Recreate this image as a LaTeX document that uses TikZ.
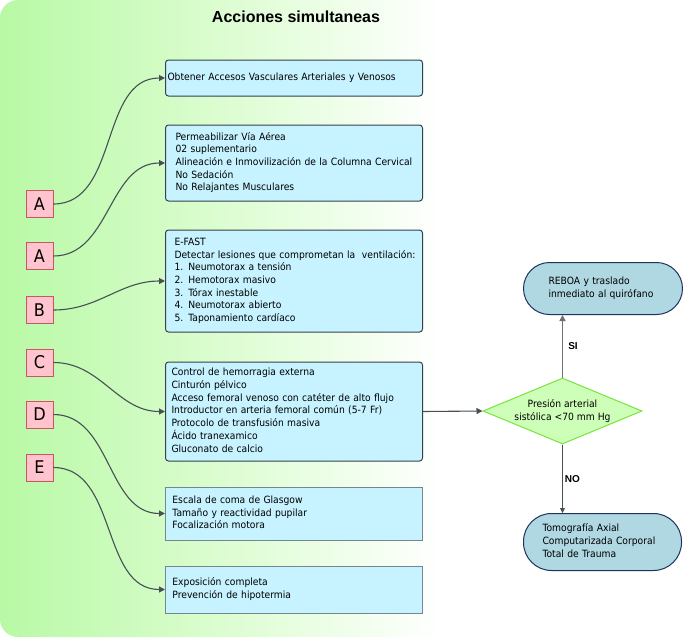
\documentclass[tikz,border=0pt]{standalone}
\usepackage{fontspec}
\setmainfont[FakeStretch=0.92]{DejaVu Sans}
\newfontfamily\titlefont{Liberation Sans}
\usetikzlibrary{shapes.geometric,arrows.meta}
\definecolor{greenA}{RGB}{184,249,165}
\definecolor{greenB}{RGB}{218,253,206}
\definecolor{boxfill}{RGB}{198,243,255}
\definecolor{boxborder}{RGB}{55,65,75}
\definecolor{boxborderB}{RGB}{115,135,145}
\definecolor{letterfill}{RGB}{255,196,206}
\definecolor{letterborder}{RGB}{205,85,95}
\definecolor{termfill}{RGB}{176,216,226}
\definecolor{termborder}{RGB}{30,50,95}
\definecolor{diafill}{RGB}{206,255,184}
\definecolor{diaborder}{RGB}{120,228,60}
\definecolor{arrowc}{RGB}{70,80,85}
\definecolor{arrowsi}{RGB}{105,115,118}
\pgfdeclarehorizontalshading{panelshade}{100bp}{color(0bp)=(greenA); color(25bp)=(greenA);
  color(40bp)=(greenB); color(56.5bp)=(white); color(100bp)=(white)}
\newcommand{\boxlines}[1]{\begin{tabular}{@{}l@{}}#1\end{tabular}}
\begin{document}
\begin{tikzpicture}[x=1pt,y=-1pt,
  txt/.style={font=\fontsize{10}{12.7}\selectfont},
  letter/.style={draw=letterborder, fill=letterfill, line width=0.8pt,
    minimum width=27pt, minimum height=27pt, inner sep=0pt,
    font=\fontsize{17.5}{17.5}\selectfont},
  actbox/.style={txt, draw=boxborder, fill=boxfill, rounded corners=3pt,
    line width=1pt, anchor=west, inner xsep=8pt, inner ysep=0pt,
    text width=241pt, align=left},
  actboxB/.style={actbox, rounded corners=0pt, draw=boxborderB, line width=0.8pt},
  term/.style={txt, draw=termborder, fill=termfill, line width=1pt,
    align=left, inner ysep=0pt},
  con/.style={draw=arrowc, line width=1.1pt, -{Triangle[length=6pt,width=6pt]}},
  lbl/.style={font=\titlefont\bfseries\fontsize{10}{12}\selectfont, inner sep=0pt}
]
\useasboundingbox (0,0) rectangle (683,638);
% background panel (its right part is white and runs off the page)
\path[shading=panelshade]
  (700,0) [rounded corners=18pt] -- (0,0) -- (0,637) [sharp corners] -- (700,637) -- cycle;
% title
\node[anchor=base, font=\titlefont\bfseries\fontsize{16}{18}\selectfont, inner sep=0pt]
  (title) at (296,22) {Acciones simultaneas};
% action boxes
\node[actbox, inner xsep=2pt, text width=253pt, minimum height=36pt] (b1) at (165,78)
  {\boxlines{Obtener Accesos Vasculares Arteriales y Venosos}};
\node[actbox, inner xsep=10pt, text width=237pt, minimum height=76pt] (b2) at (165,163)
  {\boxlines{Permeabilizar Vía Aérea\\02 suplementario\\Alineación e Inmovilización de la Columna Cervical\\No Sedación\\No Relajantes Musculares}};
\node[actbox, inner xsep=9pt, text width=239pt, minimum height=102pt] (b3) at (165,281)
  {\boxlines{E-FAST\\Detectar lesiones que comprometan la\ \ ventilación:\\1. Neumotorax a tensión\\2. Hemotorax masivo\\3. Tórax inestable\\4. Neumotorax abierto\\5. Taponamiento cardíaco}};
\node[actbox, inner xsep=6pt, text width=245pt, minimum height=99pt] (b4) at (165,411.5)
  {\boxlines{Control de hemorragia externa\\Cinturón pélvico\\Acceso femoral venoso con catéter de alto flujo\\Introductor en arteria femoral común (5-7 Fr)\\Protocolo de transfusión masiva\\Ácido tranexamico\\Gluconato de calcio}};
\node[actboxB, inner xsep=7pt, text width=243pt, minimum height=53pt] (b5) at (165,513.5)
  {\boxlines{Escala de coma de Glasgow\\Tamaño y reactividad pupilar\\Focalización motora}};
\node[actboxB, inner xsep=7pt, text width=243pt, minimum height=47pt] (b6) at (165,589.5)
  {\boxlines{Exposición completa\\Prevención de hipotermia}};
% letter boxes
\node[letter] (la1) at (39.5,204) {A};
\node[letter] (la2) at (39.5,256) {A};
\node[letter] (lb) at (39.5,310) {B};
\node[letter] (lc) at (39.5,362.5) {C};
\node[letter] (ld) at (39.5,414.5) {D};
\node[letter] (le) at (39.5,467.5) {E};
% connectors
\draw[con] (la1.east) to[out=0,in=180] (b1.west);
\draw[con] (la2.east) to[out=0,in=180] (b2.west);
\draw[con] (lb.east) to[out=0,in=180] (b3.west);
\draw[con] (lc.east) to[out=0,in=180] (b4.west);
\draw[con] (ld.east) to[out=0,in=180] (b5.west);
\draw[con] (le.east) to[out=0,in=180] (b6.west);
% decision
\node[diamond, draw=diaborder, fill=diafill, line width=1pt, aspect=2.4,
  minimum width=159pt, minimum height=66pt, inner sep=0pt, align=center, txt]
  (dia) at (562.5,411) {Presión arterial\\sistólica <70 mm Hg};
\draw[con] (b4.east) -- (dia.west);
% terminals
\node[term, anchor=north west, inner xsep=25pt, text width=109pt,
  minimum height=52pt, rounded corners=26pt] (t1) at (523,262)
  {\boxlines{REBOA y traslado\\inmediato al quirófano}\\[3pt]};
\node[term, anchor=north west, inner xsep=19pt, text width=120pt,
  minimum height=57pt, rounded corners=28pt] (t2) at (523,513)
  {\boxlines{Tomografía Axial\\Computarizada Corporal\\Total de Trauma}};
\draw[con, draw=arrowsi, line width=1.5pt]
  (dia.north) -- node[lbl, right, xshift=5pt] {SI} (dia.north |- t1.south);
\draw[con, line width=0.9pt, -{Triangle[length=5pt,width=5pt]}]
  (dia.south) -- node[lbl, right, xshift=2pt] {NO} (dia.south |- t2.north);
\end{tikzpicture}
\end{document}
